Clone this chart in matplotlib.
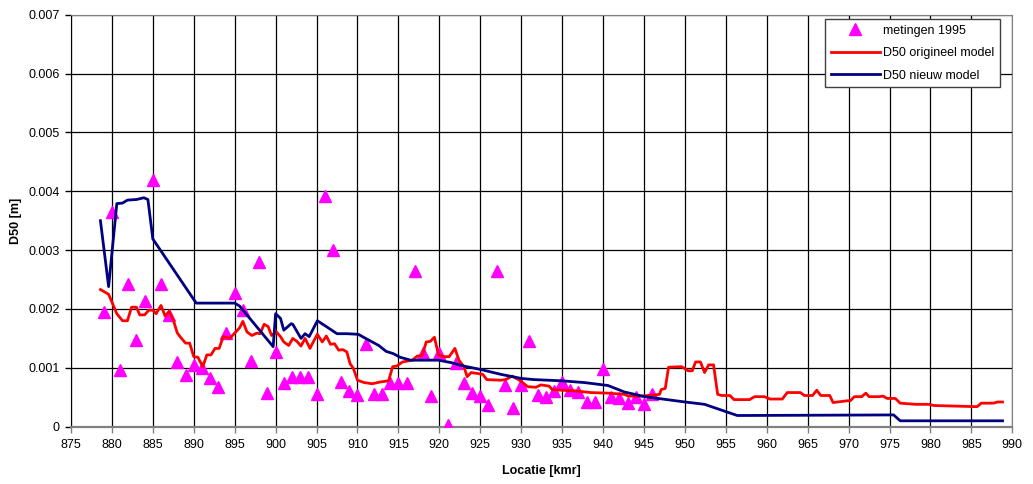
import matplotlib
matplotlib.use("Agg")
import matplotlib.pyplot as plt
from matplotlib.ticker import FuncFormatter

plt.rcParams['font.family'] = ['Liberation Sans', 'DejaVu Sans']

# metingen 1995
meas_km = [879, 880, 881, 882, 883, 884, 885, 886, 887, 888, 889, 890, 891, 892,
           893, 894, 895, 896, 897, 898, 899, 900, 901, 902, 903, 904, 905, 906,
           907, 908, 909, 910, 911, 912, 913, 914, 915, 916, 917, 918, 919, 920,
           921, 922, 923, 924, 925, 926, 927, 928, 929, 930, 931, 932, 933, 934,
           935, 936, 937, 938, 939, 940, 941, 942, 943, 944, 945, 946]
meas_d50 = [0.00195, 0.00364, 0.00096, 0.00242, 0.00148, 0.00214, 0.00420, 0.00243,
            0.00190, 0.00110, 0.00088, 0.00105, 0.00100, 0.00083, 0.00068, 0.00160,
            0.00227, 0.00198, 0.00111, 0.00280, 0.00057, 0.00127, 0.00074, 0.00084,
            0.00084, 0.00084, 0.00056, 0.00392, 0.00300, 0.00076, 0.00060, 0.00054,
            0.00140, 0.00055, 0.00055, 0.00075, 0.00074, 0.00074, 0.00265, 0.00125,
            0.00052, 0.00125, 0.00003, 0.00108, 0.00074, 0.00057, 0.00052, 0.00037,
            0.00265, 0.00070, 0.00032, 0.00070, 0.00145, 0.00054, 0.00050, 0.00060,
            0.00076, 0.00062, 0.00059, 0.00042, 0.00042, 0.00098, 0.00050, 0.00049,
            0.00040, 0.00050, 0.00038, 0.00055]

# D50 origineel model
orig_km = [878.6, 879.6, 880.6, 881.3, 881.9, 882.4, 883.0, 883.4, 884.0, 884.5,
           885.0, 885.4, 886.0, 886.5, 887.0, 887.5, 888.0, 888.5, 889.0, 889.5,
           890.0, 890.5, 891.1, 891.6, 892.1, 892.6, 893.1, 893.6, 894.4, 895.0,
           895.6, 896.0, 896.5, 897.1, 897.7, 898.1, 898.6, 899.1, 899.5, 900.1,
           900.6, 901.0, 901.6, 902.1, 902.6, 903.1, 903.6, 904.2, 904.6, 905.1,
           905.7, 906.2, 906.7, 907.2, 907.7, 908.2, 908.7, 909.1, 909.5, 910.0,
           910.8, 911.8, 912.8, 913.8, 914.3, 914.8, 915.5, 916.7, 917.3, 917.9,
           918.4, 918.9, 919.4, 919.9, 920.5, 921.2, 921.9, 922.4, 923.0, 923.4,
           923.9, 925.3, 925.8, 927.5, 928.1, 928.9, 929.8, 930.8, 931.8, 932.4,
           933.4, 933.8, 934.9, 936.5, 938.5, 940.6, 942.6, 943.1, 944.7, 946.3,
           946.9, 947.1, 947.6, 948.0, 949.6, 950.4, 950.9, 951.3, 951.9, 952.4,
           952.9, 953.5, 954.0, 954.5, 955.5, 956.0, 957.9, 958.5, 959.7, 960.4,
           961.9, 962.5, 964.1, 964.6, 965.6, 966.1, 966.6, 967.7, 968.1, 969.8,
           970.2, 970.7, 971.6, 972.1, 972.5, 973.7, 974.2, 974.7, 975.7, 976.3,
           978.2, 979.8, 980.4, 983.1, 985.7, 986.2, 987.7, 988.2, 988.8]
orig_d50 = [0.00233, 0.00225, 0.00192, 0.00180, 0.00180, 0.00203, 0.00203, 0.00190,
            0.00190, 0.00198, 0.00198, 0.00192, 0.00206, 0.00188, 0.00196, 0.00181,
            0.00159, 0.00150, 0.00142, 0.00142, 0.00119, 0.00118, 0.00102, 0.00122,
            0.00122, 0.00133, 0.00133, 0.00153, 0.00150, 0.00159, 0.00168, 0.00179,
            0.00161, 0.00155, 0.00159, 0.00158, 0.00174, 0.00170, 0.00155, 0.00161,
            0.00153, 0.00144, 0.00138, 0.00150, 0.00145, 0.00137, 0.00150, 0.00133,
            0.00144, 0.00157, 0.00144, 0.00154, 0.00140, 0.00141, 0.00130, 0.00131,
            0.00127, 0.00107, 0.00099, 0.00079, 0.00075, 0.00073, 0.00076, 0.00078,
            0.00102, 0.00103, 0.00110, 0.00113, 0.00120, 0.00121, 0.00144, 0.00145,
            0.00152, 0.00122, 0.00119, 0.00119, 0.00133, 0.00113, 0.00102, 0.00085,
            0.00092, 0.00089, 0.00080, 0.00079, 0.00080, 0.00086, 0.00079, 0.00068,
            0.00067, 0.00071, 0.00069, 0.00063, 0.00062, 0.00061, 0.00058, 0.00057,
            0.00055, 0.00052, 0.00052, 0.00054, 0.00055, 0.00063, 0.00065, 0.00101,
            0.00102, 0.00095, 0.00095, 0.00110, 0.00110, 0.00092, 0.00105, 0.00105,
            0.00055, 0.00053, 0.00053, 0.00046, 0.00046, 0.00051, 0.00051, 0.00047,
            0.00047, 0.00058, 0.00058, 0.00053, 0.00053, 0.00062, 0.00053, 0.00053,
            0.00041, 0.00044, 0.00044, 0.00051, 0.00051, 0.00057, 0.00051, 0.00051,
            0.00052, 0.00048, 0.00048, 0.00040, 0.00038, 0.00038, 0.00036, 0.00035,
            0.00034, 0.00040, 0.00040, 0.00042, 0.00042]

# D50 nieuw model
new_km = [878.6, 879.6, 880.6, 881.3, 881.9, 883.0, 883.9, 884.4, 885.0, 890.3,
          895.0, 895.6, 899.7, 900.0, 900.6, 901.0, 901.9, 902.1, 903.1, 903.6,
          904.1, 905.1, 906.1, 907.5, 908.7, 910.1, 911.0, 912.6, 913.5, 914.4,
          915.2, 916.5, 919.9, 921.4, 923.0, 925.1, 927.5, 930.0, 931.6, 934.9,
          937.7, 940.6, 942.6, 945.1, 950.0, 952.4, 956.4, 975.5, 976.3, 988.8]
new_d50 = [0.00350, 0.00238, 0.00379, 0.00380, 0.00385, 0.00386, 0.00389, 0.00386,
           0.00319, 0.00210, 0.00210, 0.00205, 0.00136, 0.00192, 0.00184, 0.00164,
           0.00175, 0.00174, 0.00150, 0.00158, 0.00153, 0.00180, 0.00171, 0.00158,
           0.00158, 0.00157, 0.00150, 0.00138, 0.00128, 0.00124, 0.00118, 0.00113,
           0.00113, 0.00109, 0.00103, 0.00097, 0.00089, 0.00082, 0.00080, 0.00078,
           0.00075, 0.00070, 0.00059, 0.00051, 0.00042, 0.00038, 0.00019, 0.00020,
           0.00010, 0.00010]

x_ticks = list(range(875, 991, 5))
y_ticks = [0, 0.001, 0.002, 0.003, 0.004, 0.005, 0.006, 0.007]

fig = plt.figure(figsize=(10.33, 4.84), dpi=100)
ax = fig.add_axes([0.0687, 0.1184, 0.9113, 0.8512])

ax.plot(meas_km, meas_d50, '^', color='#ff00ff', ms=8, ls='none',
        label='metingen 1995', zorder=3)
ax.plot(orig_km, orig_d50, color='#ff0000', lw=2.0,
        label='D50 origineel model', zorder=4)
ax.plot(new_km, new_d50, color='#000080', lw=2.0,
        label='D50 nieuw model', zorder=5)

ax.set_xlim(875, 990)
ax.set_ylim(0, 0.007)
ax.set_xticks(x_ticks)
ax.set_yticks(y_ticks)
ax.yaxis.set_major_formatter(FuncFormatter(lambda v, p: '0' if v == 0 else f'{v:.3f}'))
ax.grid(True, color='black', lw=0.9)
ax.set_axisbelow(True)

ax.tick_params(axis='both', direction='out', length=4, width=1, labelsize=9, pad=4)
ax.tick_params(axis='x', colors='#808080', labelcolor='black', pad=5)
for side in ('top', 'right'):
    ax.spines[side].set_color('#808080')
ax.spines['bottom'].set_color('#808080')
ax.spines['bottom'].set_linewidth(1.6)
ax.spines['left'].set_color('black')

ax.set_xlabel('Locatie [kmr]', fontsize=9, fontweight='bold', labelpad=10)
ax.set_ylabel('D50 [m]', fontsize=9, fontweight='bold', labelpad=5)

leg = ax.legend(loc='upper right', bbox_to_anchor=(0.9865, 0.9896), borderaxespad=0,
                fontsize=9, fancybox=False, framealpha=1, edgecolor='#404040',
                handlelength=3.9, handletextpad=0.25, labelspacing=0.85,
                borderpad=0.45)
leg.get_frame().set_linewidth(1)

fig.savefig('out.png', dpi=100)
